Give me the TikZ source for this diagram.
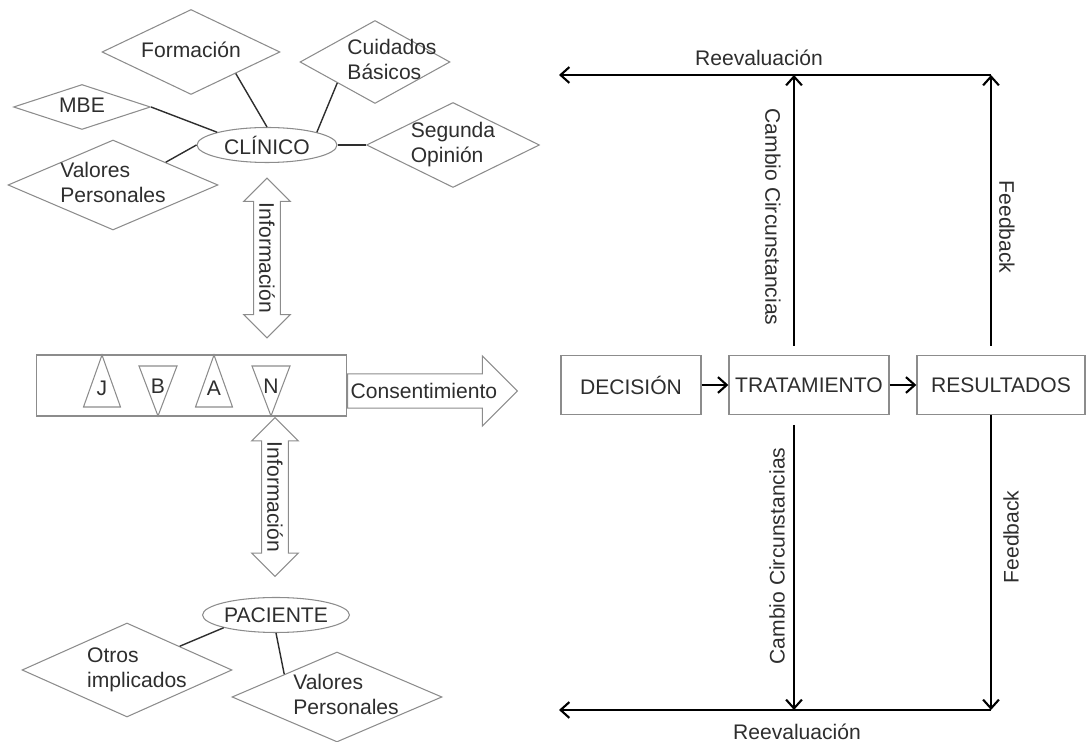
\documentclass[tikz,border=0pt]{standalone}
\usepackage{fontspec}
\setmainfont{Liberation Sans}
\usetikzlibrary{positioning, shapes.geometric, shapes.arrows, arrows.meta}

\definecolor{edge}{HTML}{8C8C8C}
\definecolor{ink}{HTML}{2E2E2E}

% text of a diamond, left aligned, may overflow the border
\newcommand{\dtxt}[2][0pt]{\makebox[0pt]{\hspace*{#1}\hspace*{#1}\begin{tabular}{@{}l@{}}#2\end{tabular}}}

\tikzset{
  rombo/.style={diamond, draw=edge, line width=0.6pt, inner sep=0pt, aspect=2},
  elipse/.style={ellipse, draw=edge, line width=0.6pt, inner sep=0pt, minimum width=2.8cm, minimum height=0.7cm},
  caja/.style={rectangle, draw=edge, line width=0.8pt, minimum height=1.18cm},
  enlace/.style={ink, line width=0.8pt},
  flujo/.style={black, line width=1.2pt, -{Straight Barb[length=5pt,width=9pt]}},
  info/.style={double arrow, draw=edge, line width=0.6pt, rotate=-90, minimum height=3.2cm, double arrow head extend=0.2cm, inner xsep=1pt, inner ysep=0.1cm},
  flecha/.style={single arrow, draw=edge, line width=0.6pt, inner xsep=1.5pt, inner ysep=5pt, single arrow head extend=0.36cm, anchor=tail},
  tri/.style={edge, line width=0.6pt}
}

\begin{document}
\begin{tikzpicture}[x=0.02cm, y=-0.02cm, font=\fontsize{12}{14.4}\selectfont, text=ink]
    \useasboundingbox (0,0) rectangle (1090,742);

    % clinico
    \node[elipse] (clin) at (267,145) {CLÍNICO};
    \node[rombo, minimum width=3.56cm, minimum height=1.7cm] (form) at (191,52) {\dtxt{Formación}};
    \node[rombo, minimum width=3.0cm, minimum height=1.66cm] (cuid) at (375,62) {\dtxt[0.34cm]{Cuidados\\Básicos}};
    \node[rombo, minimum width=2.74cm, minimum height=0.9cm] (mbe) at (82,107) {\dtxt{MBE}};
    \node[rombo, minimum width=4.2cm, minimum height=1.8cm] (val1) at (113,185) {\dtxt{Valores\\Personales}};
    \node[rombo, minimum width=3.46cm, minimum height=1.7cm] (seg) at (453,145) {\dtxt{Segunda\\Opinión}};
    \draw[enlace] (form.south east) -- (clin.north);
    \draw[enlace] (cuid.south west) -- (clin.north east);
    \draw[enlace] (mbe.east) -- (clin.north west);
    \draw[enlace] (val1.north east) -- (clin.west);
    \draw[enlace] (clin.east) -- (seg.west);

    % paciente
    \node[elipse] (pac) at (276,615) {PACIENTE};
    \node[rombo, minimum width=4.2cm, minimum height=1.88cm] (otros) at (127,670) {\dtxt[0.2cm]{Otros\\implicados}};
    \node[rombo, minimum width=4.2cm, minimum height=1.8cm] (val2) at (337,697) {\dtxt[0.18cm]{Valores\\Personales}};
    \draw[enlace] (pac.south west) -- (otros.north east);
    \draw[enlace] (pac.south) -- (val2.north west);

    % informacion
    \node[info] (info1) at (267,258) {Información};
    \node[info, minimum height=3.18cm] (info2) at (275,497) {Información};

    % principios
    \node[draw=edge, line width=0.6pt, minimum width=6.22cm, minimum height=1.22cm] (barra) at (191.5,385.5) {};
    \foreach \x/\t in {102/J, 214/A} {
        \draw[tri] (\x-18.5,407) -- (\x,355) -- (\x+18.5,407) -- cycle;
        \node (tri\t) at (\x,388) {\t};
    }
    \foreach \x/\t in {158/B, 271/N} {
        \draw[tri] (\x-19,366) -- (\x,416) -- (\x+19,366) -- cycle;
        \node (tri\t) at (\x,386) {\t};
    }
    \node[flecha] (cons) at (347,391) {Consentimiento};

    % proceso
    \node[caja, minimum width=2.8cm] (dec) at (631,385) {DECISIÓN};
    \node[caja, minimum width=3.2cm] (trat) at (809,385) {TRATAMIENTO};
    \node[caja, minimum width=3.36cm] (res) at (1001,385) {RESULTADOS};
    \draw[flujo] (dec) -- (trat);
    \draw[flujo] (trat) -- (res);

    \coordinate (ct) at (794,75);
    \coordinate (cb) at (794,710);
    \coordinate (ft) at (991,75);
    \coordinate (fb) at (991,710);
    \coordinate (lt) at (559,75);
    \coordinate (lb) at (559,710);
    \coordinate (ct0) at (794,346);
    \coordinate (cb0) at (794,425);
    \coordinate (ft0) at (991,346);

    \draw[flujo] (ct0) -- (ct);
    \draw[flujo] (ft0) -- (ft);
    \draw[flujo] (ft) -- (lt);
    \draw[flujo] (cb0) -- (cb);
    \draw[flujo] (res.south -| fb) -- (fb);
    \draw[flujo] (fb) -- (lb);

    \node (ree1) at (759,58) {Reevaluación};
    \node (ree2) at (797,732) {Reevaluación};
    \node[rotate=-90] (cam1) at (773,217) {Cambio Circunstancias};
    \node[rotate=90] (cam2) at (777,556) {Cambio Circunstancias};
    \node[rotate=-90] (fee1) at (1007,227) {Feedback};
    \node[rotate=90] (fee2) at (1011,537) {Feedback};
\end{tikzpicture}
\end{document}
